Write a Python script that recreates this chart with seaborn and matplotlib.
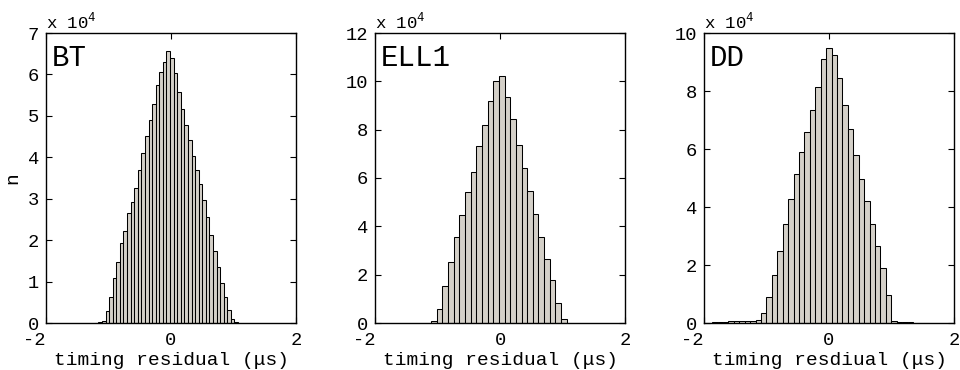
import numpy as np
import pandas as pd
import matplotlib
matplotlib.use("Agg")
import matplotlib.pyplot as plt
import seaborn as sns

# ---- data (counts in units of 10^4) ----
bt_start, bt_width = -1.219, 0.0573
bt_counts = [0.01, 0.02, 0.06, 0.28, 0.635, 1.08, 1.48, 1.92, 2.23, 2.65, 2.92,
             3.27, 3.69, 4.10, 4.51, 4.90, 5.29, 5.74, 6.07, 6.31, 6.56, 6.39,
             6.03, 5.57, 5.17, 4.79, 4.42, 4.04, 3.70, 3.35, 2.96, 2.55, 2.13,
             1.75, 1.34, 0.96, 0.635, 0.31, 0.10, 0.02]

ell_start, ell_width = -1.104, 0.0905
ell_counts = [0.09, 0.58, 1.52, 2.51, 3.54, 4.46, 5.41, 6.24, 7.34, 8.21, 9.18,
              10.01, 10.22, 9.35, 8.43, 7.38, 6.41, 5.45, 4.52, 3.54, 2.63,
              1.77, 0.81, 0.15]

dd_start, dd_width = -1.870, 0.0869
dd_counts = [0.02, 0.04, 0.05, 0.06, 0.07, 0.07, 0.08, 0.08, 0.09,
             0.33, 0.88, 1.64, 2.47, 3.41, 4.29, 5.13, 5.88, 6.58, 7.34, 8.13,
             9.10, 9.48, 9.25, 8.44, 7.51, 6.69, 5.79, 4.97, 4.22, 3.41, 2.66,
             1.90, 0.96, 0.07, 0.03, 0.02, 0.02, 0.01, 0.01, 0.01]

panel_names = ["BT", "ELL1", "DD"]
xlabels = ["timing residual (\u03bcs)", "timing residual (\u03bcs)", "timing resdiual (\u03bcs)"]
ylims = [7, 12, 10]
ysteps = [1, 2, 2]
xticks = [-2, 0, 2]
xticklabels = ["-2", "0", "2"]

sns.set_theme(style="ticks")
plt.rcParams["font.family"] = ["Liberation Mono", "DejaVu Sans"]
plt.rcParams["mathtext.fontset"] = "custom"
plt.rcParams["mathtext.rm"] = "Liberation Mono"

fig = plt.figure(figsize=(9.6, 3.7), dpi=100)
lefts = [46 / 960, 375 / 960, 704 / 960]
face = "#d4d0c8"

datasets = [(bt_start, bt_width, bt_counts),
            (ell_start, ell_width, ell_counts),
            (dd_start, dd_width, dd_counts)]

for i, (start, width, counts) in enumerate(datasets):
    ax = fig.add_axes([lefts[i], 47 / 370, 250 / 960, 290 / 370])
    n = len(counts)
    centers = start + width * (np.arange(n) + 0.5)
    df = pd.DataFrame({"x": centers, "w": counts})
    sns.histplot(data=df, x="x", weights="w", binwidth=width,
                 binrange=(start, start + n * width), ax=ax,
                 color=face, edgecolor="black", linewidth=0.75, alpha=1)
    ax.set_xlim(-2, 2)
    ax.set_ylim(0, ylims[i])
    ax.set_xticks(xticks)
    ax.set_xticklabels(xticklabels)
    yt = np.arange(0, ylims[i] + 0.01, ysteps[i])
    ax.set_yticks(yt)
    ax.set_yticklabels([str(int(v)) for v in yt])
    ax.tick_params(direction="in", top=True, right=True, length=4, width=0.8,
                   labelsize=13.5, colors="black")
    ax.tick_params(axis="x", pad=6.5)
    ax.tick_params(axis="y", pad=5)
    # shift the "-2" label slightly left, as in the reference
    lbl = ax.get_xticklabels()[0]
    lbl.set_horizontalalignment("right")
    lbl.set_x(-1.96)
    for s in ax.spines.values():
        s.set_visible(True)
        s.set_color("black")
        s.set_linewidth(1.0)
    ax.set_xlabel(xlabels[i], fontsize=14, labelpad=2, color="black")
    if i == 0:
        ax.set_ylabel("n", fontsize=14, labelpad=5, color="black")
    else:
        ax.set_ylabel("")
    ax.text(0.0, 1.005, r"x 10$^{\mathrm{4}}$", transform=ax.transAxes,
            ha="left", va="bottom", fontsize=12.5, color="black")
    ax.text(0.022, 0.962, panel_names[i], transform=ax.transAxes,
            ha="left", va="top", fontsize=21, color="black")

fig.savefig("out.png", dpi=100)
